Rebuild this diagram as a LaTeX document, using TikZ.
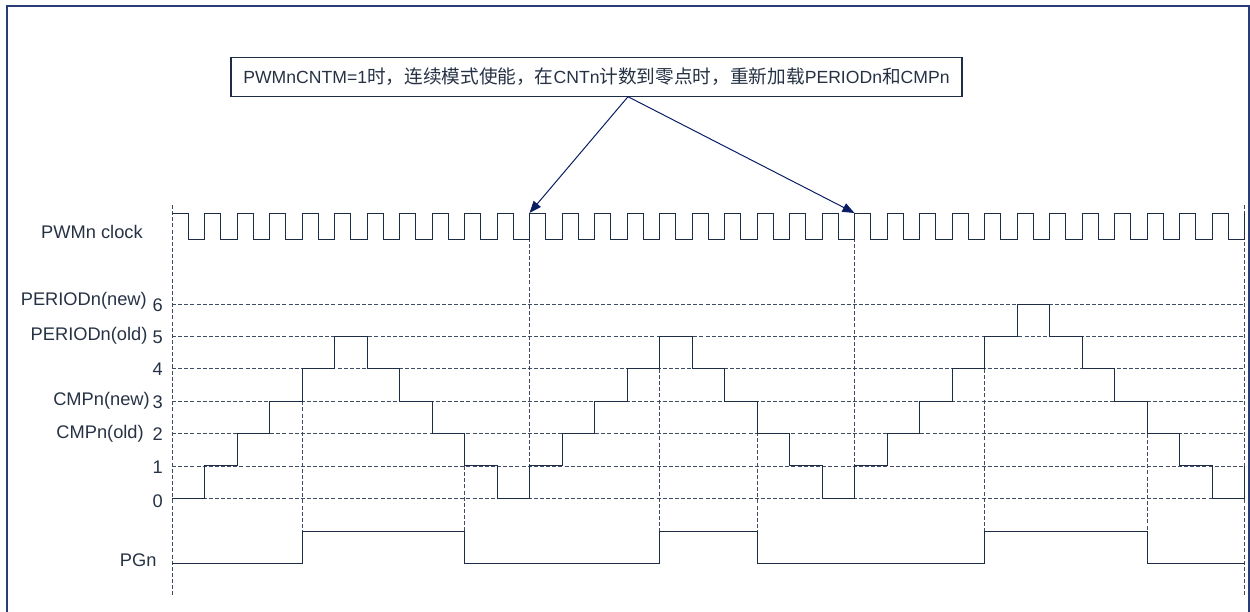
\documentclass[tikz,border=0pt]{standalone}
\usepackage{fontspec}
\setmainfont{Liberation Sans}
\newfontfamily\cjk[Scale=1.06]{Noto Sans CJK SC}
\usetikzlibrary{arrows.meta}
\definecolor{ink}{RGB}{30,45,70}
\definecolor{txt}{RGB}{38,50,68}
\definecolor{navy}{RGB}{10,30,100}
\definecolor{framec}{RGB}{40,60,120}
\begin{document}
\begin{tikzpicture}[x=0.75pt,y=-0.75pt,
  sig/.style={draw=ink, line width=0.75pt, line join=miter},
  gridline/.style={draw=ink!85, line width=0.65pt, dash pattern=on 3pt off 1.6pt},
  lbl/.style={text=txt, font=\fontsize{13.7}{16}\selectfont, inner sep=0pt, anchor=east},
  ptr/.style={draw=navy, line width=0.75pt, -{Triangle[length=9pt,width=7pt]}}]
\useasboundingbox (0,0) rectangle (1250,611);
\draw[framec, line width=1pt] (7,6) rectangle (1249,640);

% level grid lines
\foreach \v in {0,...,6}
  \draw[gridline] (172,{498.3-32.35*\v}) -- (1244.5,{498.3-32.35*\v});

% vertical dashed guides
\foreach \x/\a/\b in {172/205/595, 302/401.25/531, 464.5/466/531, 529.5/213/466,
                      659.5/368.9/531, 757/401.25/531, 854.5/213/466,
                      984.5/368.9/531, 1147/433.6/531, 1244.5/205/595}
  \draw[gridline] (\x,\a) -- (\x,\b);

% clock
\draw[sig] (172,213) \foreach \k in {0,...,32} {
  -- ({172+32.5*\k+16.25},213) -- ({172+32.5*\k+16.25},239)
  -- ({172+32.5*(\k+1)},239) -- ({172+32.5*(\k+1)},213) };

% counter staircase
\draw[sig] (172,498.3) \foreach \v [count=\k] in
  {0,1,2,3,4,5,4,3,2,1,0,1,2,3,4,5,4,3,2,1,0,1,2,3,4,5,6,5,4,3,2,1,0} {
  -- ({172+32.5*(\k-1)},{498.3-32.35*\v}) -- ({172+32.5*\k},{498.3-32.35*\v}) }
  -- (1244.5,465.95);

% PGn
\draw[sig] (172,563.3) -- (302,563.3) -- (302,531) -- (464.5,531) -- (464.5,563.3)
  -- (659.5,563.3) -- (659.5,531) -- (757,531) -- (757,563.3)
  -- (984.5,563.3) -- (984.5,531) -- (1147,531) -- (1147,563.3) -- (1244.5,563.3);

% labels
\node[lbl] (lclk) at (143,232) {PWMn clock};
\node[lbl] (lpn) at (147,301) {PERIODn(new)};
\node[lbl] (l6) at (163,305) {6};
\node[lbl] (lpo) at (147.7,336) {PERIODn(old)};
\node[lbl] (l5) at (163,337) {5};
\node[lbl] (l4) at (163,369.5) {4};
\node[lbl] (lcn) at (150,401) {CMPn(new)};
\node[lbl] (l3) at (163,402) {3};
\node[lbl] (lco) at (144,434) {CMPn(old)};
\node[lbl] (l2) at (163,434.5) {2};
\node[lbl] (l1) at (163,467) {1};
\node[lbl] (l0) at (163,501.5) {0};
\node[lbl] (lpg) at (156.7,560) {PGn};

% note box and pointers
\node[draw=ink, line width=0.85pt, text=txt, inner sep=0pt,
      minimum width=548.25pt, minimum height=29.5pt,
      font=\fontsize{13.2}{16}\selectfont] (note) at (596.5,77)
  {PWMnCNTM=1{\cjk 时，连续模式使能，在}CNTn{\cjk 计数到零点时，重新加载}PERIODn{\cjk 和}CMPn};
\coordinate (src) at (628,96.7);
\coordinate (r1) at (529.5,213);
\coordinate (r2) at (854.5,213);
\draw[ptr] (src) -- (r1);
\draw[ptr] (src) -- (r2);
\end{tikzpicture}
\end{document}
